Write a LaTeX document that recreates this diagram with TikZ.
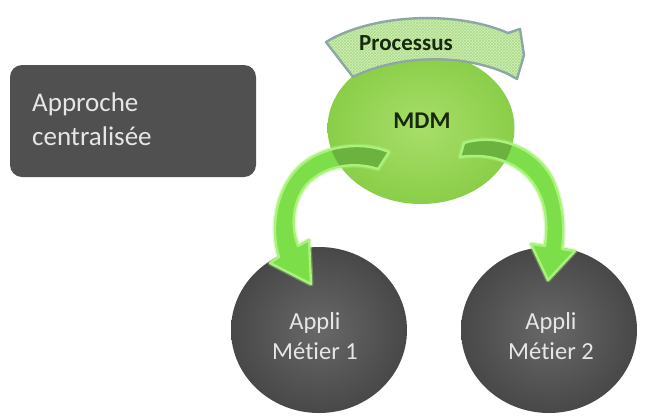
\documentclass[tikz,border=0pt]{standalone}
\usepackage{fontspec}
\setmainfont{Carlito}[Ligatures=NoCommon]
\usetikzlibrary{shapes.geometric,patterns}

\definecolor{boxgray}{HTML}{505050}
\definecolor{lighttext}{HTML}{E6E6E6}
\definecolor{mdminner}{HTML}{A8DE6A}
\definecolor{mdmouter}{HTML}{8ACE48}
\definecolor{appinner}{HTML}{686868}
\definecolor{appouter}{HTML}{484848}
\definecolor{ribbongreen}{HTML}{7CDF49}
\definecolor{ribbonshade}{HTML}{6CB23E}
\definecolor{ribbonedge}{HTML}{AAF27C}
\definecolor{procfill}{HTML}{D4F1B6}
\definecolor{procgrid}{HTML}{A9D98A}
\definecolor{procedge}{HTML}{8EA7A4}
\definecolor{darklabel}{HTML}{172A0C}

\tikzset{
  infobox/.style={rectangle, rounded corners=12pt, fill=boxgray,
    minimum width=246pt, minimum height=112pt, inner sep=0pt},
  appcircle/.style={ellipse, shading=radial, inner color=appinner,
    outer color=appouter, minimum width=176pt, minimum height=166pt,
    inner sep=0pt},
  hubcircle/.style={ellipse, shading=radial, inner color=mdminner,
    outer color=mdmouter, minimum width=187pt, minimum height=152pt,
    inner sep=0pt},
  applabel/.style={font=\fontsize{24.5}{30}\selectfont, text=lighttext,
    align=center, inner sep=0pt},
  darkbold/.style={font=\bfseries\fontsize{24}{28}\selectfont,
    text=darklabel, inner sep=0pt},
  ribbonglow/.style={draw=ribbonedge, line width=5pt, opacity=.35,
    line join=round},
  ribbonline/.style={draw=ribbonedge, line width=2.4pt, line join=round},
}

% curved band from the hub down to the first application
\newcommand{\bandleft}{(389,152) .. controls (360,140) and (318,146) .. (296,170)
  .. controls (276,192) and (270,228) .. (279,257) -- (270,263) -- (311,284)
  -- (309,240) -- (298,246) .. controls (290,225) and (293,200) .. (307,184)
  .. controls (322,168) and (350,160) .. (378,169) -- cycle}
% curved band from the hub down to the second application
\newcommand{\bandright}{(464,143) .. controls (500,132) and (540,150) .. (554,182)
  .. controls (563,205) and (565,228) .. (562,249) -- (575,251) -- (548,280)
  -- (531,244) -- (545,246) .. controls (548,225) and (546,206) .. (538,191)
  .. controls (525,165) and (495,152) .. (460,157) -- cycle}
% arched band across the top of the hub
\newcommand{\bandtop}{(326,42) .. controls (372,14) and (455,10) .. (508,33)
  -- (520,29) -- (524,55) -- (517,79) -- (508,74)
  .. controls (460,52) and (395,56) .. (353,77) -- cycle}

\begin{document}
\begin{tikzpicture}[x=1pt,y=-1pt]
\useasboundingbox (0,0) rectangle (646,416);
\fill[white] (0,0) rectangle (646,416);

% left caption box
\node[infobox] (box) at (133,121) {};
\node[font=\fontsize{27}{34}\selectfont, text=lighttext, align=left,
  anchor=north west, inner sep=0pt] (boxtext) at (32,93)
  {Approche\\centralisée};

% application circles
\node[appcircle] (app1) at (319,330) {};
\node[appcircle] (app2) at (549,330) {};
\node[applabel] (app1text) at (315,336) {Appli\\Métier 1};
\node[applabel] (app2text) at (551,336) {Appli\\Métier 2};

% hub circle
\node[hubcircle] (mdm) at (421,128) {};

% connectors from the hub to the applications
\path[ribbonglow] \bandleft;
\path[ribbonglow] \bandright;
\path[fill=ribbongreen] \bandleft;
\path[fill=ribbongreen] \bandright;
\begin{scope}
  \clip (mdm.center) ellipse [x radius=93.5pt, y radius=76pt];
  \path[fill=ribbonshade] \bandleft;
  \path[fill=ribbonshade] \bandright;
\end{scope}
\path[ribbonline] \bandleft;
\path[ribbonline] \bandright;

% process band across the top
\path[fill=procfill] \bandtop;
\path[pattern=crosshatch, pattern color=procgrid] \bandtop;
\path[draw=procedge, line width=2.4pt, line join=round] \bandtop;

\node[darkbold, font=\bfseries\fontsize{23}{27}\selectfont] (proc) at (406,43) {Processus};
\node[darkbold] (mdmtext) at (422,121) {MDM};
\end{tikzpicture}
\end{document}
